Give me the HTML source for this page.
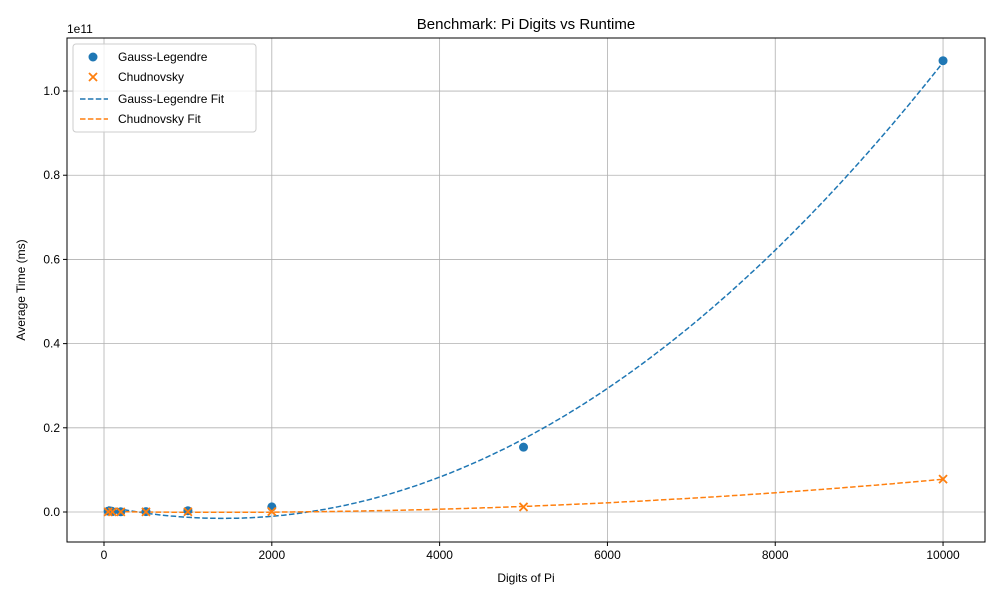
<!DOCTYPE html>
<html><head><meta charset="utf-8"><style>
body{margin:0;background:#fff;font-family:"Liberation Sans","DejaVu Sans",sans-serif}
svg text{font-family:"Liberation Sans","DejaVu Sans",sans-serif}
</style></head><body>
<svg id="c" width="1000" height="600" xmlns="http://www.w3.org/2000/svg"></svg>
<script>
const digits=[50,100,200,500,1000,2000,5000,10000];
const gaussTimes=[0.002,0.001,0.0005,0.001,0.003,0.012,0.154,1.072];
const chudTimes=[0.0003,0.0002,0.0002,0.0003,0.0005,0.001,0.012,0.078];
const xTicks=[0,2000,4000,6000,8000,10000];
const yTicks=[0,0.2,0.4,0.6,0.8,1.0];
const L=67,R=985,T=38,B=542;
const x0=-441,x1=10500,y0=-0.0713,y1=1.126;
const X=v=>L+(v-x0)/(x1-x0)*(R-L);
const Y=v=>B-(v-y0)/(y1-y0)*(B-T);
const svg=document.getElementById('c');
const NS='http://www.w3.org/2000/svg';
function mk(t,a,p){const e=document.createElementNS(NS,t);for(const k in a)e.setAttribute(k,a[k]);(p||svg).appendChild(e);return e;}
function fit(xs,ys){const s=xs.map(v=>v/10000);let S=Array(5).fill(0),Q=[0,0,0];
for(let i=0;i<s.length;i++){for(let k=0;k<5;k++)S[k]+=s[i]**k;for(let k=0;k<3;k++)Q[k]+=ys[i]*s[i]**k;}
const M=[[S[0],S[1],S[2],Q[0]],[S[1],S[2],S[3],Q[1]],[S[2],S[3],S[4],Q[2]]];
for(let i=0;i<3;i++){for(let j=i+1;j<3;j++){const f=M[j][i]/M[i][i];for(let k=i;k<4;k++)M[j][k]-=f*M[i][k];}}
const c=[0,0,0];for(let i=2;i>=0;i--){let v=M[i][3];for(let k=i+1;k<3;k++)v-=M[i][k]*c[k];c[i]=v/M[i][i];}
return x=>{const u=x/10000;return c[0]+c[1]*u+c[2]*u*u;};}
// grid
xTicks.forEach(v=>{const g=mk('line',{x1:X(v),x2:X(v),y1:T,y2:B,stroke:'#b0b0b0','stroke-width':0.8});
const t=mk('text',{x:X(v),y:B+17,'text-anchor':'middle','font-size':12});t.textContent=v;
mk('line',{x1:X(v),x2:X(v),y1:B,y2:B+4,stroke:'#000'});});
yTicks.forEach(v=>{const g=mk('line',{x1:L,x2:R,y1:Y(v),y2:Y(v),stroke:'#b0b0b0','stroke-width':0.8});
const t=mk('text',{x:L-7,y:Y(v)+4,'text-anchor':'end','font-size':12});t.textContent=v.toFixed(1);
mk('line',{x1:L-4,x2:L,y1:Y(v),y2:Y(v),stroke:'#000'});});
// fits
function curve(xs,ys,col,name){const f=fit(xs,ys);let d='';for(let i=0;i<=200;i++){const x=xs[0]+(xs[xs.length-1]-xs[0])*i/200;d+=(i?'L':'M')+X(x).toFixed(1)+','+Y(f(x)).toFixed(1);}
const p=mk('path',{d:d,fill:'none',stroke:col,'stroke-width':1.5,'stroke-dasharray':'5.5,2.4'});}
curve(digits,gaussTimes,'#1f77b4','gauss-legendre-fit-line');
curve(digits,chudTimes,'#ff7f0e','chudnovsky-fit-line');
digits.forEach((d,i)=>{const c=mk('circle',{cx:X(d),cy:Y(gaussTimes[i]),r:4.5,fill:'#1f77b4'});});
digits.forEach((d,i)=>{const cx=X(d),cy=Y(chudTimes[i]);const p=mk('path',{d:`M${cx-4},${cy-4}L${cx+4},${cy+4}M${cx-4},${cy+4}L${cx+4},${cy-4}`,stroke:'#ff7f0e','stroke-width':1.8});});
mk('rect',{x:L,y:T,width:R-L,height:B-T,fill:'none',stroke:'#000','stroke-width':1});
</script>
<svg width="1000" height="600" style="position:absolute;left:0;top:0" xmlns="http://www.w3.org/2000/svg">
<text x="526" y="29" text-anchor="middle" font-size="15">Benchmark: Pi Digits vs Runtime</text>
<text x="526" y="582" text-anchor="middle" font-size="12">Digits of Pi</text>
<text x="25" y="290" text-anchor="middle" font-size="12" transform="rotate(-90 25 290)">Average Time (ms)</text>
<text x="67" y="33" font-size="12">1e11</text>
<g>
<rect x="73" y="44" width="183" height="88" rx="3" fill="#fff" fill-opacity="0.8" stroke="#ccc"/>
<circle cx="93" cy="57" r="4.5" fill="#1f77b4"/><text x="118" y="61" font-size="12">Gauss-Legendre</text>
<path d="M89,73L97,81M89,81L97,73" stroke="#ff7f0e" stroke-width="1.8"/><text x="118" y="81" font-size="12">Chudnovsky</text>
<line x1="80" x2="108" y1="99" y2="99" stroke="#1f77b4" stroke-width="1.5" stroke-dasharray="5.5,2.4"/><text x="118" y="103" font-size="12">Gauss-Legendre Fit</text>
<line x1="80" x2="108" y1="119" y2="119" stroke="#ff7f0e" stroke-width="1.5" stroke-dasharray="5.5,2.4"/><text x="118" y="123" font-size="12">Chudnovsky Fit</text>
</g>
</svg>
</body></html>
